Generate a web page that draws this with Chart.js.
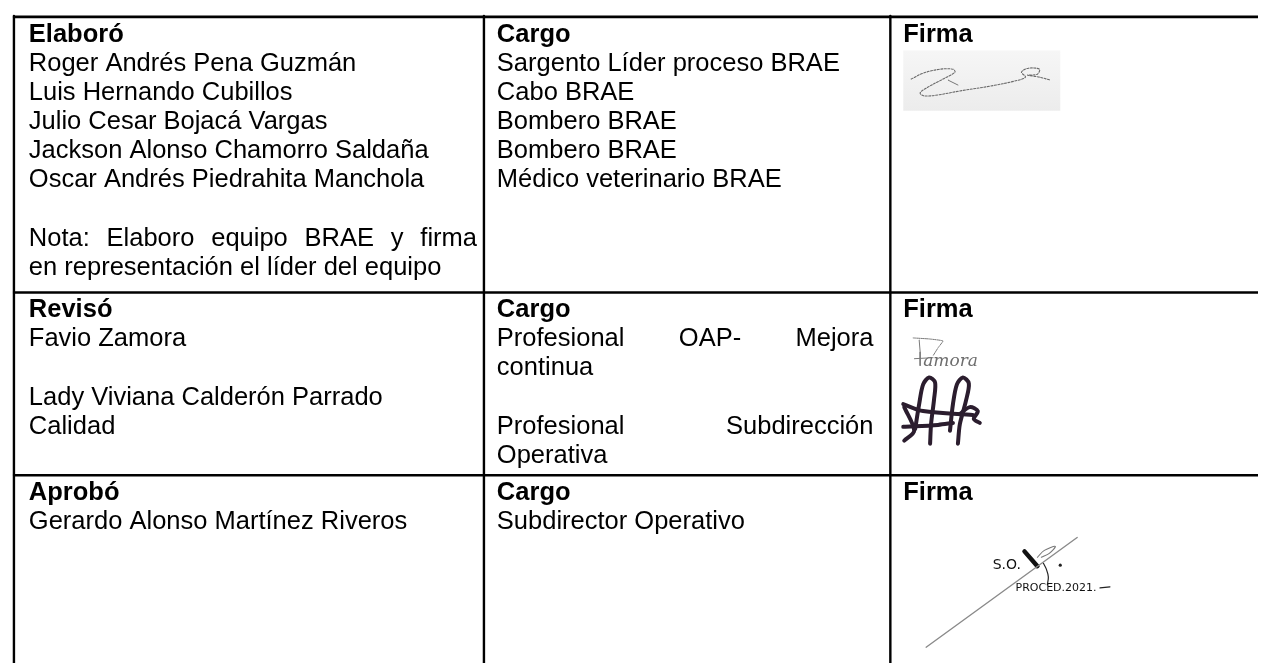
<!DOCTYPE html>
<html>
<head>
<meta charset="utf-8">
<script src="https://cdn.jsdelivr.net/npm/chart.js@4.4.0/dist/chart.umd.min.js"></script>
<style>
  html, body { margin: 0; padding: 0; background: #fff; overflow: hidden; }
  #wrap { width: 1262px; height: 667px; }
</style>
</head>
<body>
<div id="wrap"><canvas id="tabla" width="1262" height="667"></canvas></div>
<script>
// table content
const sections = ["Elaboró", "Revisó", "Aprobó"];
const cargoHeader = "Cargo";
const firmaHeader = "Firma";

const elaboroNames = [
  "Roger Andrés Pena Guzmán",
  "Luis Hernando Cubillos",
  "Julio Cesar Bojacá Vargas",
  "Jackson Alonso Chamorro Saldaña",
  "Oscar Andrés Piedrahita Manchola",
  "",
  "Nota: Elaboro equipo BRAE y firma",
  "en representación el líder del equipo"
];
const elaboroCargos = [
  "Sargento Líder proceso BRAE",
  "Cabo BRAE",
  "Bombero BRAE",
  "Bombero BRAE",
  "Médico veterinario BRAE"
];
const revisoNames = ["Favio Zamora", "", "Lady Viviana Calderón Parrado", "Calidad"];
const revisoCargos = ["Profesional OAP- Mejora", "continua", "", "Profesional Subdirección", "Operativa"];
const aproboNames = ["Gerardo Alonso Martínez Riveros"];
const aproboCargos = ["Subdirector Operativo"];

// lines that Word stretched to the full cell width
const justified = ["Nota: Elaboro equipo BRAE y firma", "Profesional OAP- Mejora", "Profesional Subdirección"];

// signature strokes (page coordinates)
const firma1 = [[913,76],[925,70],[942,66],[955,66],[957,69],[945,76],[930,84],[922,90],[926,93],[940,92],[962,88],[993,83],[1017,78],[1028,74],[1024,69],[1031,65],[1042,66],[1040,71],[1030,72],[1042,74],[1053,77]];
const firma1b = [[950,77],[960,82]];
const zamoraTop = [[915,338],[931,339],[945,341],[940,348],[935,356]];
const zamoraStem = [[921,340],[922,352],[922,366]];
const zamoraBar = [[916,359],[935,358]];
const inicial1 = [[917,430],[921,405],[925,385],[931,378],[937,383],[936,400],[933,425],[932,445]];
const inicial2 = [[952,432],[955,405],[959,385],[965,378],[971,384],[968,402],[962,425],[960,445]];
const inicialCurl = [[962,415],[972,408],[980,412],[976,420],[982,424]];
const inicialBar1 = [[905,405],[925,412],[975,416]];
const inicialBar2 = [[905,428],[940,426],[955,424]];
const inicialTri = [[906,408],[916,432],[906,442]];
const aprobLine = [[928,651],[1080,540]];
const aprobTick = [[1027,554],[1040,569]];
const aprobSquiggle = [[1040,560],[1047,553],[1058,549],[1052,556],[1044,560]];
const aprobHook = [[1046,566],[1049,572],[1051,580],[1050,588]];
const aprobDash = [[1103,591],[1113,590]];

// layout
const colEdges = [10, 483, 892];
const rowEdges = [13, 292, 477];
const textLeft = [25, 496, 905];
const textRight = [476, 875, 1240];
const firstBaseline = [38, 317, 502];
const lineH = 29.5;
const fontSize = 25.5;
const fontFamily = "'Liberation Sans', Arial, sans-serif";

const toPts = arr => arr.map(p => ({ x: p[0], y: p[1] }));

function stroke(points, color, width, extra) {
  return Object.assign({
    data: toPts(points),
    showLine: true,
    borderColor: color,
    borderWidth: width,
    pointRadius: 0,
    tension: 0.35,
    borderCapStyle: "round",
    borderJoinStyle: "round"
  }, extra || {});
}

const datasets = [];
rowEdges.forEach(r => datasets.push(stroke([[colEdges[0] - 1, r], [1270, r]], "#000", 2.6, { tension: 0, borderCapStyle: "butt" })));
colEdges.forEach(c => datasets.push(stroke([[c, rowEdges[0] - 1], [c, 680]], "#000", 2.4, { tension: 0, borderCapStyle: "butt" })));

datasets.push(stroke(firma1, "#6a6a6a", 1.1, { borderDash: [2, 1.5] }));
datasets.push(stroke(firma1b, "#777", 1, { tension: 0 }));
datasets.push(stroke(zamoraTop, "#7a7a7a", 1, { tension: 0.1, borderDash: [3, 1] }));
datasets.push(stroke(zamoraStem, "#7a7a7a", 1, { tension: 0 }));
datasets.push(stroke(zamoraBar, "#7a7a7a", 1, { tension: 0 }));
[inicial1, inicial2, inicialCurl, inicialBar1, inicialBar2, inicialTri].forEach(s =>
  datasets.push(stroke(s, "#2b1d2e", 4, { tension: 0.3 })));
datasets.push(stroke(aprobLine, "#8a8a8a", 1.4, { tension: 0 }));
datasets.push(stroke(aprobTick, "#111", 4.5, { tension: 0 }));
datasets.push(stroke(aprobSquiggle, "#777", 1.1));
datasets.push(stroke(aprobHook, "#222", 1.2));
datasets.push(stroke(aprobDash, "#222", 1.2, { tension: 0 }));
datasets.push({ data: [{ x: 1063, y: 568 }], pointRadius: 1.6, pointBackgroundColor: "#222", pointBorderWidth: 0 });

const tablePlugin = {
  id: "tablePlugin",
  beforeDatasetsDraw(chart) {
    const { ctx, scales: { x, y } } = chart;
    // greyish scan patch behind the first signature
    ctx.save();
    const gx = x.getPixelForValue(905), gy = y.getPixelForValue(47);
    const grad = ctx.createLinearGradient(0, gy, 0, y.getPixelForValue(108));
    grad.addColorStop(0, "#f6f6f6");
    grad.addColorStop(1, "#ececec");
    ctx.fillStyle = grad;
    ctx.fillRect(gx, gy, x.getPixelForValue(1063) - gx, y.getPixelForValue(108) - gy);
    ctx.restore();
  },
  afterDatasetsDraw(chart) {
    const { ctx, scales: { x, y } } = chart;
    ctx.save();
    ctx.fillStyle = "#000";
    ctx.textBaseline = "alphabetic";

    function drawLine(text, col, base, bold) {
      if (!text) return;
      ctx.font = (bold ? "bold " : "") + fontSize + "px " + fontFamily;
      const left = x.getPixelForValue(textLeft[col]);
      const py = y.getPixelForValue(base);
      if (justified.includes(text)) {
        const words = text.split(" ");
        const right = x.getPixelForValue(textRight[col]);
        const total = words.reduce((s, w) => s + ctx.measureText(w).width, 0);
        const gap = (right - left - total) / (words.length - 1);
        let cx = left;
        words.forEach(w => { ctx.fillText(w, cx, py); cx += ctx.measureText(w).width + gap; });
      } else {
        ctx.fillText(text, left, py);
      }
    }

    function drawCell(col, row, header, lines) {
      drawLine(header, col, firstBaseline[row], true);
      lines.forEach((t, i) => drawLine(t, col, firstBaseline[row] + (i + 1) * lineH, false));
    }

    drawCell(0, 0, sections[0], elaboroNames);
    drawCell(1, 0, cargoHeader, elaboroCargos);
    drawCell(2, 0, firmaHeader, []);
    drawCell(0, 1, sections[1], revisoNames);
    drawCell(1, 1, cargoHeader, revisoCargos);
    drawCell(2, 1, firmaHeader, []);
    drawCell(0, 2, sections[2], aproboNames);
    drawCell(1, 2, cargoHeader, aproboCargos);
    drawCell(2, 2, firmaHeader, []);

    // handwritten bits of the signatures
    ctx.fillStyle = "#6e6e6e";
    ctx.font = "italic 17px 'DejaVu Serif', serif";
    ctx.fillText("amora", x.getPixelForValue(925), y.getPixelForValue(366));
    ctx.fillStyle = "#111";
    ctx.font = "14px 'DejaVu Sans', sans-serif";
    ctx.fillText("S.O.", x.getPixelForValue(995), y.getPixelForValue(572));
    ctx.font = "11px 'DejaVu Sans', sans-serif";
    ctx.fillText("PROCED.2021.", x.getPixelForValue(1018), y.getPixelForValue(594));
    ctx.restore();
  }
};

new Chart(document.getElementById("tabla"), {
  type: "scatter",
  data: { datasets: datasets },
  options: {
    responsive: false,
    devicePixelRatio: 1,
    animation: false,
    events: [],
    layout: { padding: 0 },
    plugins: { legend: { display: false }, tooltip: { enabled: false } },
    scales: {
      x: { type: "linear", min: 0, max: 1262, display: false },
      y: { type: "linear", min: 0, max: 667, reverse: true, display: false }
    }
  },
  plugins: [tablePlugin]
});
</script>
</body>
</html>
